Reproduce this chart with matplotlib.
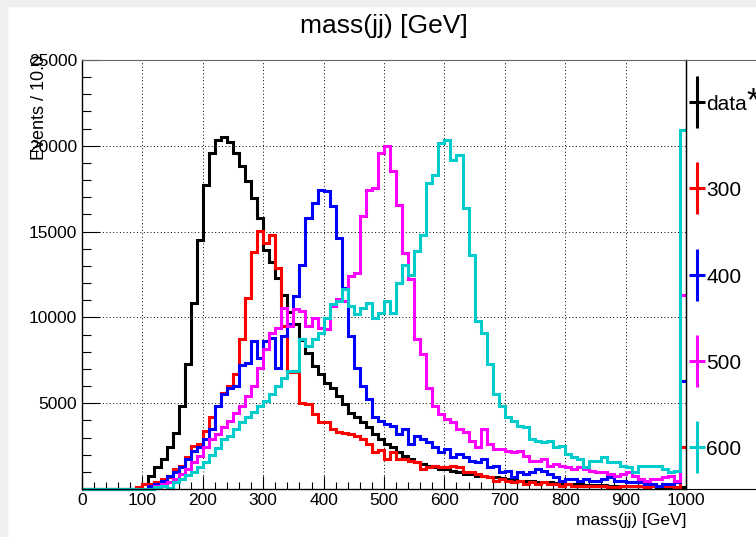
import numpy as np
import matplotlib
matplotlib.use('Agg')
import matplotlib.pyplot as plt
from matplotlib.patches import Rectangle
from matplotlib.ticker import MultipleLocator

plt.rcParams['font.family'] = ['Liberation Sans', 'DejaVu Sans']

# 100 bins of 10 GeV, 0 - 1000 GeV (last bin holds the overflow)
edges = np.arange(0, 1001, 10)

data_counts = [0, 0, 0, 0, 0, 0, 0, 0, 0, 0,
               290, 780, 1260, 1750, 2420, 3290, 4850, 7270, 10850, 14530,
               17730, 19580, 20350, 20540, 20250, 19580, 18800, 17920, 16960, 15800,
               13900, 13200, 12300, 11300, 10300, 9600, 8700, 7950, 7170, 6690,
               6200, 5910, 5430, 4940, 4450, 4170, 3880, 3590, 3200, 2900,
               2620, 2420, 2130, 1940, 1750, 1550, 1450, 1360, 1260, 1160,
               1160, 1070, 970, 870, 870, 780, 780, 680, 680, 620,
               580, 540, 490, 490, 450, 430, 390, 390, 350, 330,
               290, 280, 270, 250, 240, 230, 220, 200, 200, 190,
               180, 170, 160, 160, 150, 140, 140, 130, 130, 120]

m300 = [0, 0, 0, 0, 0, 0, 0, 0, 0, 100,
        290, 290, 390, 580, 680, 1160, 1360, 1840, 2520, 2620,
        3390, 4170, 4850, 5620, 6010, 6690, 8720, 11140, 13800, 15020,
        14340, 14830, 12900, 9500, 6800, 6800, 5040, 4940, 4360, 3880,
        3880, 3500, 3300, 3250, 3200, 3100, 2900, 2620, 2130, 2300,
        1750, 2130, 1750, 1750, 1650, 1550, 1160, 1260, 1360, 1260,
        1260, 1360, 1260, 970, 970, 870, 780, 680, 490, 580,
        490, 390, 490, 290, 390, 290, 390, 290, 290, 190,
        290, 190, 190, 190, 190, 190, 190, 100, 100, 190,
        190, 150, 190, 120, 190, 150, 190, 150, 120, 2450]

m400 = [0, 0, 0, 0, 0, 0, 0, 0, 0, 0,
        0, 190, 290, 490, 780, 970, 1260, 1750, 2230, 2420,
        2900, 3490, 4850, 5520, 5910, 6010, 7200, 7360, 8620, 7650,
        8620, 8820, 7070, 8920, 9590, 11240, 13080, 15800, 16670, 17440,
        17350, 16470, 14630, 11720, 8920, 7070, 6010, 5230, 4170, 3970,
        3780, 3680, 3200, 3490, 2620, 3100, 2900, 2710, 2420, 2130,
        2330, 1840, 2040, 1840, 1650, 1550, 1750, 1260, 1360, 970,
        1070, 680, 970, 870, 970, 1160, 1070, 870, 680, 490,
        580, 580, 490, 580, 490, 490, 580, 680, 490, 490,
        390, 390, 390, 290, 290, 190, 290, 290, 390, 6300]

m500 = [0, 0, 0, 0, 0, 0, 0, 0, 0, 0,
        0, 0, 190, 290, 390, 580, 870, 1160, 1550, 1940,
        2420, 2900, 3200, 3590, 3970, 4450, 4850, 5430, 6010, 7070,
        8140, 9110, 9400, 10560, 9500, 10470, 10370, 9500, 9980, 9400,
        9300, 10660, 11050, 10950, 12400, 12600, 15890, 17440, 17540, 19570,
        19960, 18510, 16570, 13760, 12210, 8720, 7850, 5910, 4850, 4360,
        4070, 3880, 3490, 3300, 2810, 2420, 3490, 2620, 2330, 2330,
        2230, 2130, 2230, 1940, 1650, 1650, 1750, 1360, 1450, 1360,
        1260, 1160, 1260, 1160, 1070, 970, 970, 870, 780, 870,
        970, 780, 580, 490, 580, 580, 680, 780, 490, 11300]

m600 = [0, 0, 0, 0, 0, 0, 0, 0, 0, 0,
        0, 0, 100, 150, 50, 400, 600, 800, 1000, 1300,
        1600, 2000, 2400, 2900, 3100, 3500, 3900, 4200, 4500, 4850,
        5100, 5520, 6010, 6490, 6880, 6880, 8720, 8330, 8720, 9110,
        9980, 10760, 10950, 11630, 10660, 10180, 10560, 10850, 9980, 10270,
        10950, 10270, 12020, 13080, 12500, 13860, 14830, 17830, 18310, 20150,
        20350, 19190, 19480, 16380, 13660, 9790, 9110, 7270, 5520, 4850,
        4170, 3970, 3680, 3590, 2900, 2810, 2710, 2810, 2420, 2520,
        2040, 1840, 1750, 1260, 1650, 1650, 1840, 1550, 1550, 1360,
        1260, 970, 1360, 1360, 1360, 1360, 1160, 970, 1070, 20930]

series = [data_counts, m300, m400, m500, m600]
labels = ['data', '300', '400', '500', '600']
colors = ['black', '#ff0000', '#0000ff', '#ff00ff', '#00cccc']

W, H = 756, 537
fig = plt.figure(figsize=(W / 100, H / 100), dpi=100)

# grey window border on top and left
fig.patches.append(Rectangle((0, 1 - 6 / H), 1, 6 / H, transform=fig.transFigure,
                             color='#efefef', zorder=0))
fig.patches.append(Rectangle((0, 0), 7 / W, 1, transform=fig.transFigure,
                             color='#efefef', zorder=0))

ax = fig.add_axes([82 / W, (H - 489) / H, (686 - 82) / W, (489 - 60) / H])
for vals, c in zip(series, colors):
    ax.stairs(vals, edges, color=c, lw=2.2, baseline=None, clip_on=False)

ax.set_xlim(0, 1000)
ax.set_ylim(0, 25000)
ax.set_xticks(np.arange(0, 1001, 100))
ax.xaxis.set_minor_locator(MultipleLocator(20))
ax.set_yticks(np.arange(5000, 25001, 5000))
ax.yaxis.set_minor_locator(MultipleLocator(1000))
ax.grid(True, which='major', color='black', lw=0.7, ls=(0, (1, 2.5)))
ax.set_axisbelow(True)

ax.tick_params(which='both', direction='in', top=False, right=False,
               labelsize=12.5, width=0.8, color='black')
ax.tick_params(axis='x', which='major', length=9.5, pad=3)
ax.tick_params(axis='x', which='minor', length=4.7)
ax.tick_params(axis='y', which='major', length=13, pad=3.5)
ax.tick_params(axis='y', which='minor', length=6.5)

for s in ['left', 'bottom', 'right']:
    ax.spines[s].set_color('black')
    ax.spines[s].set_linewidth(1.0)
ax.spines['top'].set_color('#666666')
ax.spines['top'].set_linewidth(0.8)

ax.text(1.0, -(521 - 489) / 429, 'mass(jj) [GeV]', transform=ax.transAxes,
        ha='right', va='center', fontsize=12.5)
fig.text(39 / W, 1 - 55 / H, 'Events / 10.0', rotation=90, ha='center', va='top',
         fontsize=13)
fig.text(383.5 / W, 1 - 26 / H, 'mass(jj) [GeV]', ha='center', va='center',
         fontsize=19)

# legend box to the right of the frame
lax = fig.add_axes([686 / W, (H - 489) / H, (W - 686) / W, (489 - 60) / H])
lax.set_xlim(686, W)
lax.set_ylim(489, 60)
lax.set_xticks([])
lax.set_yticks([])
lax.spines['right'].set_visible(False)
lax.spines['left'].set_color('black')
lax.spines['top'].set_color('#666666')
lax.spines['top'].set_linewidth(0.8)
lax.patch.set_alpha(0)

leg_y = [102, 188, 275, 361, 447]
for yc, lab, c in zip(leg_y, labels, colors):
    lax.plot([689, 705], [yc, yc], color=c, lw=2.2, solid_capstyle='butt')
    lax.plot([697, 697], [yc - 26, yc + 26], color=c, lw=2.2, solid_capstyle='butt')
    lax.text(706, yc + 8, lab, fontsize=15, ha='left', va='baseline')
lax.text(746, 110, '*', fontsize=24, ha='left', va='baseline', clip_on=False)

fig.savefig('out.png', dpi=100)
